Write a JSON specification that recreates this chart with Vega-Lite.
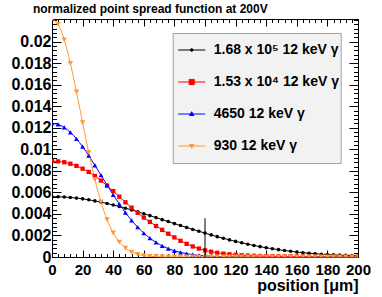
{
  "$schema": "https://vega.github.io/schema/vega-lite/v6.json",
  "width": 306,
  "height": 238,
  "autosize": {"type": "none"},
  "padding": {"left": 52, "top": 19, "right": 24, "bottom": 40},
  "background": "white",
  "title": {"text": "normalized point spread function at 200V", "anchor": "middle", "frame": "group", "dx": -54.7, "dy": 14, "offset": 6, "font": "Liberation Sans", "fontSize": 12, "fontWeight": "bold", "color": "black", "baseline": "alphabetic"},
  "datasets": {
    "psf": [
      {"series":"1.68 x 10⁵ 12 keV γ","x":0,"y":0.0056},{"series":"1.68 x 10⁵ 12 keV γ","x":4,"y":0.00559},{"series":"1.68 x 10⁵ 12 keV γ","x":8,"y":0.00557},{"series":"1.68 x 10⁵ 12 keV γ","x":12,"y":0.00553},{"series":"1.68 x 10⁵ 12 keV γ","x":16,"y":0.00547},{"series":"1.68 x 10⁵ 12 keV γ","x":20,"y":0.0054},{"series":"1.68 x 10⁵ 12 keV γ","x":24,"y":0.00531},{"series":"1.68 x 10⁵ 12 keV γ","x":28,"y":0.00521},{"series":"1.68 x 10⁵ 12 keV γ","x":32,"y":0.0051},{"series":"1.68 x 10⁵ 12 keV γ","x":36,"y":0.00497},{"series":"1.68 x 10⁵ 12 keV γ","x":40,"y":0.00483},{"series":"1.68 x 10⁵ 12 keV γ","x":44,"y":0.00469},{"series":"1.68 x 10⁵ 12 keV γ","x":48,"y":0.00453},{"series":"1.68 x 10⁵ 12 keV γ","x":52,"y":0.00437},{"series":"1.68 x 10⁵ 12 keV γ","x":56,"y":0.00419},{"series":"1.68 x 10⁵ 12 keV γ","x":60,"y":0.00402},{"series":"1.68 x 10⁵ 12 keV γ","x":64,"y":0.00384},{"series":"1.68 x 10⁵ 12 keV γ","x":68,"y":0.00366},{"series":"1.68 x 10⁵ 12 keV γ","x":72,"y":0.00347},{"series":"1.68 x 10⁵ 12 keV γ","x":76,"y":0.00329},{"series":"1.68 x 10⁵ 12 keV γ","x":80,"y":0.0031},{"series":"1.68 x 10⁵ 12 keV γ","x":84,"y":0.00292},{"series":"1.68 x 10⁵ 12 keV γ","x":88,"y":0.00274},{"series":"1.68 x 10⁵ 12 keV γ","x":92,"y":0.00256},{"series":"1.68 x 10⁵ 12 keV γ","x":96,"y":0.00239},{"series":"1.68 x 10⁵ 12 keV γ","x":100,"y":0.00222},{"series":"1.68 x 10⁵ 12 keV γ","x":104,"y":0.00205},{"series":"1.68 x 10⁵ 12 keV γ","x":108,"y":0.00189},{"series":"1.68 x 10⁵ 12 keV γ","x":112,"y":0.00174},{"series":"1.68 x 10⁵ 12 keV γ","x":116,"y":0.00159},{"series":"1.68 x 10⁵ 12 keV γ","x":120,"y":0.00145},{"series":"1.68 x 10⁵ 12 keV γ","x":124,"y":0.00132},{"series":"1.68 x 10⁵ 12 keV γ","x":128,"y":0.00119},{"series":"1.68 x 10⁵ 12 keV γ","x":132,"y":0.00107},{"series":"1.68 x 10⁵ 12 keV γ","x":136,"y":0.00096},{"series":"1.68 x 10⁵ 12 keV γ","x":140,"y":0.00086},{"series":"1.68 x 10⁵ 12 keV γ","x":144,"y":0.00077},{"series":"1.68 x 10⁵ 12 keV γ","x":148,"y":0.00068},{"series":"1.68 x 10⁵ 12 keV γ","x":152,"y":0.0006},{"series":"1.68 x 10⁵ 12 keV γ","x":156,"y":0.00053},{"series":"1.68 x 10⁵ 12 keV γ","x":160,"y":0.00046},{"series":"1.68 x 10⁵ 12 keV γ","x":164,"y":0.0004},{"series":"1.68 x 10⁵ 12 keV γ","x":168,"y":0.00035},{"series":"1.68 x 10⁵ 12 keV γ","x":172,"y":0.0003},{"series":"1.68 x 10⁵ 12 keV γ","x":176,"y":0.00026},{"series":"1.68 x 10⁵ 12 keV γ","x":180,"y":0.00023},{"series":"1.68 x 10⁵ 12 keV γ","x":184,"y":0.0002},{"series":"1.68 x 10⁵ 12 keV γ","x":188,"y":0.00017},{"series":"1.68 x 10⁵ 12 keV γ","x":192,"y":0.00015},{"series":"1.68 x 10⁵ 12 keV γ","x":196,"y":0.00013},{"series":"1.68 x 10⁵ 12 keV γ","x":200,"y":0.00011},
      {"series":"1.53 x 10⁴ 12 keV γ","x":0,"y":0.0089},{"series":"1.53 x 10⁴ 12 keV γ","x":4,"y":0.00888},{"series":"1.53 x 10⁴ 12 keV γ","x":8,"y":0.0088},{"series":"1.53 x 10⁴ 12 keV γ","x":12,"y":0.00866},{"series":"1.53 x 10⁴ 12 keV γ","x":16,"y":0.00846},{"series":"1.53 x 10⁴ 12 keV γ","x":20,"y":0.0082},{"series":"1.53 x 10⁴ 12 keV γ","x":24,"y":0.0079},{"series":"1.53 x 10⁴ 12 keV γ","x":28,"y":0.00752},{"series":"1.53 x 10⁴ 12 keV γ","x":32,"y":0.0071},{"series":"1.53 x 10⁴ 12 keV γ","x":36,"y":0.00662},{"series":"1.53 x 10⁴ 12 keV γ","x":40,"y":0.00612},{"series":"1.53 x 10⁴ 12 keV γ","x":44,"y":0.0056},{"series":"1.53 x 10⁴ 12 keV γ","x":48,"y":0.00508},{"series":"1.53 x 10⁴ 12 keV γ","x":52,"y":0.00458},{"series":"1.53 x 10⁴ 12 keV γ","x":56,"y":0.0041},{"series":"1.53 x 10⁴ 12 keV γ","x":60,"y":0.00366},{"series":"1.53 x 10⁴ 12 keV γ","x":64,"y":0.00326},{"series":"1.53 x 10⁴ 12 keV γ","x":68,"y":0.00288},{"series":"1.53 x 10⁴ 12 keV γ","x":72,"y":0.00252},{"series":"1.53 x 10⁴ 12 keV γ","x":76,"y":0.00216},{"series":"1.53 x 10⁴ 12 keV γ","x":80,"y":0.00182},{"series":"1.53 x 10⁴ 12 keV γ","x":84,"y":0.0015},{"series":"1.53 x 10⁴ 12 keV γ","x":88,"y":0.00122},{"series":"1.53 x 10⁴ 12 keV γ","x":92,"y":0.00098},{"series":"1.53 x 10⁴ 12 keV γ","x":96,"y":0.00078},{"series":"1.53 x 10⁴ 12 keV γ","x":100,"y":0.00062},{"series":"1.53 x 10⁴ 12 keV γ","x":104,"y":0.00049},{"series":"1.53 x 10⁴ 12 keV γ","x":108,"y":0.00039},{"series":"1.53 x 10⁴ 12 keV γ","x":112,"y":0.00031},{"series":"1.53 x 10⁴ 12 keV γ","x":116,"y":0.00025},{"series":"1.53 x 10⁴ 12 keV γ","x":120,"y":0.0002},{"series":"1.53 x 10⁴ 12 keV γ","x":124,"y":0.00016},{"series":"1.53 x 10⁴ 12 keV γ","x":128,"y":0.00013},{"series":"1.53 x 10⁴ 12 keV γ","x":132,"y":0.00011},{"series":"1.53 x 10⁴ 12 keV γ","x":136,"y":0.00009},{"series":"1.53 x 10⁴ 12 keV γ","x":140,"y":0.00008},{"series":"1.53 x 10⁴ 12 keV γ","x":144,"y":0.00007},{"series":"1.53 x 10⁴ 12 keV γ","x":148,"y":0.00006},{"series":"1.53 x 10⁴ 12 keV γ","x":152,"y":0.00005},{"series":"1.53 x 10⁴ 12 keV γ","x":156,"y":0.00005},{"series":"1.53 x 10⁴ 12 keV γ","x":160,"y":0.00004},{"series":"1.53 x 10⁴ 12 keV γ","x":164,"y":0.00004},{"series":"1.53 x 10⁴ 12 keV γ","x":168,"y":0.00003},{"series":"1.53 x 10⁴ 12 keV γ","x":172,"y":0.00003},{"series":"1.53 x 10⁴ 12 keV γ","x":176,"y":0.00003},{"series":"1.53 x 10⁴ 12 keV γ","x":180,"y":0.00002},{"series":"1.53 x 10⁴ 12 keV γ","x":184,"y":0.00002},{"series":"1.53 x 10⁴ 12 keV γ","x":188,"y":0.00002},{"series":"1.53 x 10⁴ 12 keV γ","x":192,"y":0.00002},{"series":"1.53 x 10⁴ 12 keV γ","x":196,"y":0.00001},{"series":"1.53 x 10⁴ 12 keV γ","x":200,"y":0.00001},
      {"series":"4650 12 keV γ","x":0,"y":0.0124},{"series":"4650 12 keV γ","x":4,"y":0.01231},{"series":"4650 12 keV γ","x":8,"y":0.01203},{"series":"4650 12 keV γ","x":12,"y":0.01158},{"series":"4650 12 keV γ","x":16,"y":0.01097},{"series":"4650 12 keV γ","x":20,"y":0.01024},{"series":"4650 12 keV γ","x":24,"y":0.00942},{"series":"4650 12 keV γ","x":28,"y":0.00852},{"series":"4650 12 keV γ","x":32,"y":0.0076},{"series":"4650 12 keV γ","x":36,"y":0.00667},{"series":"4650 12 keV γ","x":40,"y":0.00577},{"series":"4650 12 keV γ","x":44,"y":0.00492},{"series":"4650 12 keV γ","x":48,"y":0.00412},{"series":"4650 12 keV γ","x":52,"y":0.00341},{"series":"4650 12 keV γ","x":56,"y":0.00277},{"series":"4650 12 keV γ","x":60,"y":0.00222},{"series":"4650 12 keV γ","x":64,"y":0.00175},{"series":"4650 12 keV γ","x":68,"y":0.00136},{"series":"4650 12 keV γ","x":72,"y":0.00104},{"series":"4650 12 keV γ","x":76,"y":0.00078},{"series":"4650 12 keV γ","x":80,"y":0.00058},{"series":"4650 12 keV γ","x":84,"y":0.00043},{"series":"4650 12 keV γ","x":88,"y":0.00031},{"series":"4650 12 keV γ","x":92,"y":0.00022},{"series":"4650 12 keV γ","x":96,"y":0.00015},{"series":"4650 12 keV γ","x":100,"y":0.0001},{"series":"4650 12 keV γ","x":104,"y":0.00007},{"series":"4650 12 keV γ","x":108,"y":0.00005},{"series":"4650 12 keV γ","x":112,"y":0.00003},{"series":"4650 12 keV γ","x":116,"y":0.00002},{"series":"4650 12 keV γ","x":120,"y":0.00001},{"series":"4650 12 keV γ","x":124,"y":0.00001},{"series":"4650 12 keV γ","x":128,"y":0.00001},{"series":"4650 12 keV γ","x":132,"y":0.00001},{"series":"4650 12 keV γ","x":136,"y":0.00001},{"series":"4650 12 keV γ","x":140,"y":0.00001},{"series":"4650 12 keV γ","x":144,"y":0.00001},{"series":"4650 12 keV γ","x":148,"y":0.00001},{"series":"4650 12 keV γ","x":152,"y":0.00001},{"series":"4650 12 keV γ","x":156,"y":0.00001},{"series":"4650 12 keV γ","x":160,"y":0.00001},{"series":"4650 12 keV γ","x":164,"y":0.00001},{"series":"4650 12 keV γ","x":168,"y":0.00001},{"series":"4650 12 keV γ","x":172,"y":0.00001},{"series":"4650 12 keV γ","x":176,"y":0.00001},{"series":"4650 12 keV γ","x":180,"y":0.00001},{"series":"4650 12 keV γ","x":184,"y":0.00001},{"series":"4650 12 keV γ","x":188,"y":0.00001},{"series":"4650 12 keV γ","x":192,"y":0.00001},{"series":"4650 12 keV γ","x":196,"y":0.00001},{"series":"4650 12 keV γ","x":200,"y":0.00001},
      {"series":"930 12 keV γ","x":0,"y":0.0221},{"series":"930 12 keV γ","x":4,"y":0.0216},{"series":"930 12 keV γ","x":8,"y":0.02017},{"series":"930 12 keV γ","x":12,"y":0.01799},{"series":"930 12 keV γ","x":16,"y":0.01533},{"series":"930 12 keV γ","x":20,"y":0.01248},{"series":"930 12 keV γ","x":24,"y":0.00971},{"series":"930 12 keV γ","x":28,"y":0.00721},{"series":"930 12 keV γ","x":32,"y":0.00512},{"series":"930 12 keV γ","x":36,"y":0.00347},{"series":"930 12 keV γ","x":40,"y":0.00225},{"series":"930 12 keV γ","x":44,"y":0.00139},{"series":"930 12 keV γ","x":48,"y":0.00082},{"series":"930 12 keV γ","x":52,"y":0.00046},{"series":"930 12 keV γ","x":56,"y":0.00025},{"series":"930 12 keV γ","x":60,"y":0.00013},{"series":"930 12 keV γ","x":64,"y":0.00006},{"series":"930 12 keV γ","x":68,"y":0.00003},{"series":"930 12 keV γ","x":72,"y":0.00001},{"series":"930 12 keV γ","x":76,"y":0.00001},{"series":"930 12 keV γ","x":80,"y":0.00001},{"series":"930 12 keV γ","x":84,"y":0.00001},{"series":"930 12 keV γ","x":88,"y":0.00001},{"series":"930 12 keV γ","x":92,"y":0.00001},{"series":"930 12 keV γ","x":96,"y":0.00001},{"series":"930 12 keV γ","x":100,"y":0.00001},{"series":"930 12 keV γ","x":104,"y":0.00001},{"series":"930 12 keV γ","x":108,"y":0.00001},{"series":"930 12 keV γ","x":112,"y":0.00001},{"series":"930 12 keV γ","x":116,"y":0.00001},{"series":"930 12 keV γ","x":120,"y":0.00001},{"series":"930 12 keV γ","x":124,"y":0.00001},{"series":"930 12 keV γ","x":128,"y":0.00001},{"series":"930 12 keV γ","x":132,"y":0.00001},{"series":"930 12 keV γ","x":136,"y":0.00001},{"series":"930 12 keV γ","x":140,"y":0.00001},{"series":"930 12 keV γ","x":144,"y":0.00001},{"series":"930 12 keV γ","x":148,"y":0.00001},{"series":"930 12 keV γ","x":152,"y":0.00001},{"series":"930 12 keV γ","x":156,"y":0.00001},{"series":"930 12 keV γ","x":160,"y":0.00001},{"series":"930 12 keV γ","x":164,"y":0.00001},{"series":"930 12 keV γ","x":168,"y":0.00001},{"series":"930 12 keV γ","x":172,"y":0.00001},{"series":"930 12 keV γ","x":176,"y":0.00001},{"series":"930 12 keV γ","x":180,"y":0.00001},{"series":"930 12 keV γ","x":184,"y":0.00001},{"series":"930 12 keV γ","x":188,"y":0.00001},{"series":"930 12 keV γ","x":192,"y":0.00001},{"series":"930 12 keV γ","x":196,"y":0.00001},{"series":"930 12 keV γ","x":200,"y":0.00001}
    ],
    "marker": [{"x": 100, "y": 0, "y2": 0.0036}]
  },
  "layer": [
    {
      "data": {"name": "psf"},
      "mark": {"type": "line", "strokeWidth": 1, "interpolate": "monotone"},
      "encoding": {
        "x": {"field": "x", "type": "quantitative", "scale": {"domain": [0, 200], "nice": false, "zero": false},
          "axis": {"orient": "bottom", "values": [0,20,40,60,80,100,120,140,160,180,200], "tickSize": -7, "labelPadding": 12.7, "labelFontSize": 15, "labelFontWeight": "bold", "labelFont": "Liberation Sans", "labelFlush": false, "labelOverlap": false, "title": "position [μm]", "titleFont": "Liberation Sans", "titleFontSize": 16, "titleFontWeight": "bold", "titleAnchor": "end", "titleAlign": "right", "titleBaseline": "alphabetic", "titleX": 306, "titleY": 33}},
        "y": {"field": "y", "type": "quantitative", "scale": {"domain": [0, 0.0221], "nice": false, "zero": true},
          "axis": {"orient": "left", "values": [0,0.002,0.004,0.006,0.008,0.01,0.012,0.014,0.016,0.018,0.02], "format": ".3~f", "tickSize": -9, "labelPadding": 10, "labelFontSize": 16, "labelFontWeight": "bold", "labelFont": "Liberation Sans", "labelFlush": false, "labelOverlap": false, "title": null}},
        "color": {"field": "series", "type": "nominal", "scale": {"domain": ["1.68 x 10⁵ 12 keV γ","1.53 x 10⁴ 12 keV γ","4650 12 keV γ","930 12 keV γ"], "range": ["#000000","#ff0000","#0000ff","#ff9933"]}, "legend": null}
      }
    },
    {
      "data": {"name": "psf"},
      "mark": {"type": "point", "filled": true, "opacity": 1, "clip": true},
      "encoding": {
        "x": {"field": "x", "type": "quantitative",
          "axis": {"orient": "bottom", "values": [0,4,8,12,16,20,24,28,32,36,40,44,48,52,56,60,64,68,72,76,80,84,88,92,96,100,104,108,112,116,120,124,128,132,136,140,144,148,152,156,160,164,168,172,176,180,184,188,192,196,200], "tickSize": -3.5, "labels": false, "title": null}},
        "y": {"field": "y", "type": "quantitative",
          "axis": {"orient": "left", "values": [0,0.0004,0.0008,0.0012,0.0016,0.002,0.0024,0.0028,0.0032,0.0036,0.004,0.0044,0.0048,0.0052,0.0056,0.006,0.0064,0.0068,0.0072,0.0076,0.008,0.0084,0.0088,0.0092,0.0096,0.01,0.0104,0.0108,0.0112,0.0116,0.012,0.0124,0.0128,0.0132,0.0136,0.014,0.0144,0.0148,0.0152,0.0156,0.016,0.0164,0.0168,0.0172,0.0176,0.018,0.0184,0.0188,0.0192,0.0196,0.02,0.0204,0.0208,0.0212,0.0216,0.022], "tickSize": -4.5, "labels": false, "title": null}},
        "color": {"field": "series", "type": "nominal", "legend": null},
        "shape": {"field": "series", "type": "nominal", "scale": {"domain": ["1.68 x 10⁵ 12 keV γ","1.53 x 10⁴ 12 keV γ","4650 12 keV γ","930 12 keV γ"], "range": ["circle","square","triangle-up","triangle-down"]}, "legend": null},
        "size": {"field": "series", "type": "ordinal", "scale": {"domain": ["1.68 x 10⁵ 12 keV γ","1.53 x 10⁴ 12 keV γ","4650 12 keV γ","930 12 keV γ"], "range": [13, 30, 26, 26]}, "legend": null}
      }
    },
    {
      "data": {"name": "psf"},
      "mark": {"type": "point", "filled": true, "opacity": 0, "size": 729, "strokeWidth": 1},
      "encoding": {
        "x": {"field": "x", "type": "quantitative",
          "axis": {"orient": "top", "values": [0,4,8,12,16,20,24,28,32,36,40,44,48,52,56,60,64,68,72,76,80,84,88,92,96,100,104,108,112,116,120,124,128,132,136,140,144,148,152,156,160,164,168,172,176,180,184,188,192,196,200], "tickSize": -3.5, "labels": false, "title": null}},
        "y": {"field": "y", "type": "quantitative",
          "axis": {"orient": "right", "values": [0,0.0004,0.0008,0.0012,0.0016,0.002,0.0024,0.0028,0.0032,0.0036,0.004,0.0044,0.0048,0.0052,0.0056,0.006,0.0064,0.0068,0.0072,0.0076,0.008,0.0084,0.0088,0.0092,0.0096,0.01,0.0104,0.0108,0.0112,0.0116,0.012,0.0124,0.0128,0.0132,0.0136,0.014,0.0144,0.0148,0.0152,0.0156,0.016,0.0164,0.0168,0.0172,0.0176,0.018,0.0184,0.0188,0.0192,0.0196,0.02,0.0204,0.0208,0.0212,0.0216,0.022], "tickSize": -4.5, "labels": false, "title": null}},
        "fill": {"field": "series", "type": "nominal", "title": null, "scale": {"domain": ["1.68 x 10⁵ 12 keV γ","1.53 x 10⁴ 12 keV γ","4650 12 keV γ","930 12 keV γ"], "range": ["#000000","#ff0000","#0000ff","#ff9933"]},
          "legend": {"title": null, "symbolOpacity": 1, "symbolSize": 729, "symbolStrokeWidth": 1}},
        "stroke": {"field": "series", "type": "nominal", "title": null, "scale": {"domain": ["1.68 x 10⁵ 12 keV γ","1.53 x 10⁴ 12 keV γ","4650 12 keV γ","930 12 keV γ"], "range": ["#000000","#ff0000","#0000ff","#ff9933"]},
          "legend": {"title": null, "symbolOpacity": 1, "symbolSize": 729, "symbolStrokeWidth": 1}},
        "shape": {"field": "series", "type": "nominal", "title": null, "scale": {"domain": ["1.68 x 10⁵ 12 keV γ","1.53 x 10⁴ 12 keV γ","4650 12 keV γ","930 12 keV γ"], "range": ["M-1,0H1M0.1,0A0.1,0.1 0 1 1 -0.1,0A0.1,0.1 0 1 1 0.1,0Z","M-1,0H1M-0.19,-0.19H0.19V0.19H-0.19Z","M-1,0H1M0,-0.17L0.16,0.11H-0.16Z","M-1,0H1M0,0.17L0.16,-0.11H-0.16Z"]},
          "legend": {"title": null, "symbolOpacity": 1, "symbolSize": 729, "symbolStrokeWidth": 1}}
      }
    },
    {
      "data": {"name": "marker"},
      "mark": {"type": "rule", "color": "black", "strokeWidth": 1},
      "encoding": {
        "x": {"field": "x", "type": "quantitative",
          "axis": {"orient": "top", "values": [0,20,40,60,80,100,120,140,160,180,200], "tickSize": -7, "labels": false, "title": null}},
        "y": {"field": "y", "type": "quantitative",
          "axis": {"orient": "right", "values": [0,0.002,0.004,0.006,0.008,0.01,0.012,0.014,0.016,0.018,0.02], "tickSize": -9, "labels": false, "title": null}},
        "y2": {"field": "y2"}
      }
    }
  ],
  "resolve": {"scale": {"shape": "independent", "size": "independent", "fill": "independent", "stroke": "independent"}, "axis": {"x": "independent", "y": "independent"}},
  "config": {
    "view": {"stroke": "black", "strokeWidth": 1, "fill": "white"},
    "axis": {"grid": false, "domain": false, "tickColor": "black", "labelColor": "black", "titleColor": "black", "tickWidth": 1},
    "legend": {"orient": "none", "legendX": 120.7, "legendY": 14, "fillColor": "#f2f2f2", "strokeColor": "#a0a0a0", "padding": 1, "clipHeight": 32, "rowPadding": 0, "symbolOffset": 4, "labelOffset": 8, "labelFont": "Liberation Sans", "labelFontSize": 14, "labelFontWeight": "bold", "labelColor": "black", "labelLimit": 0, "symbolStrokeWidth": 1, "symbolOpacity": 1}
  }
}
